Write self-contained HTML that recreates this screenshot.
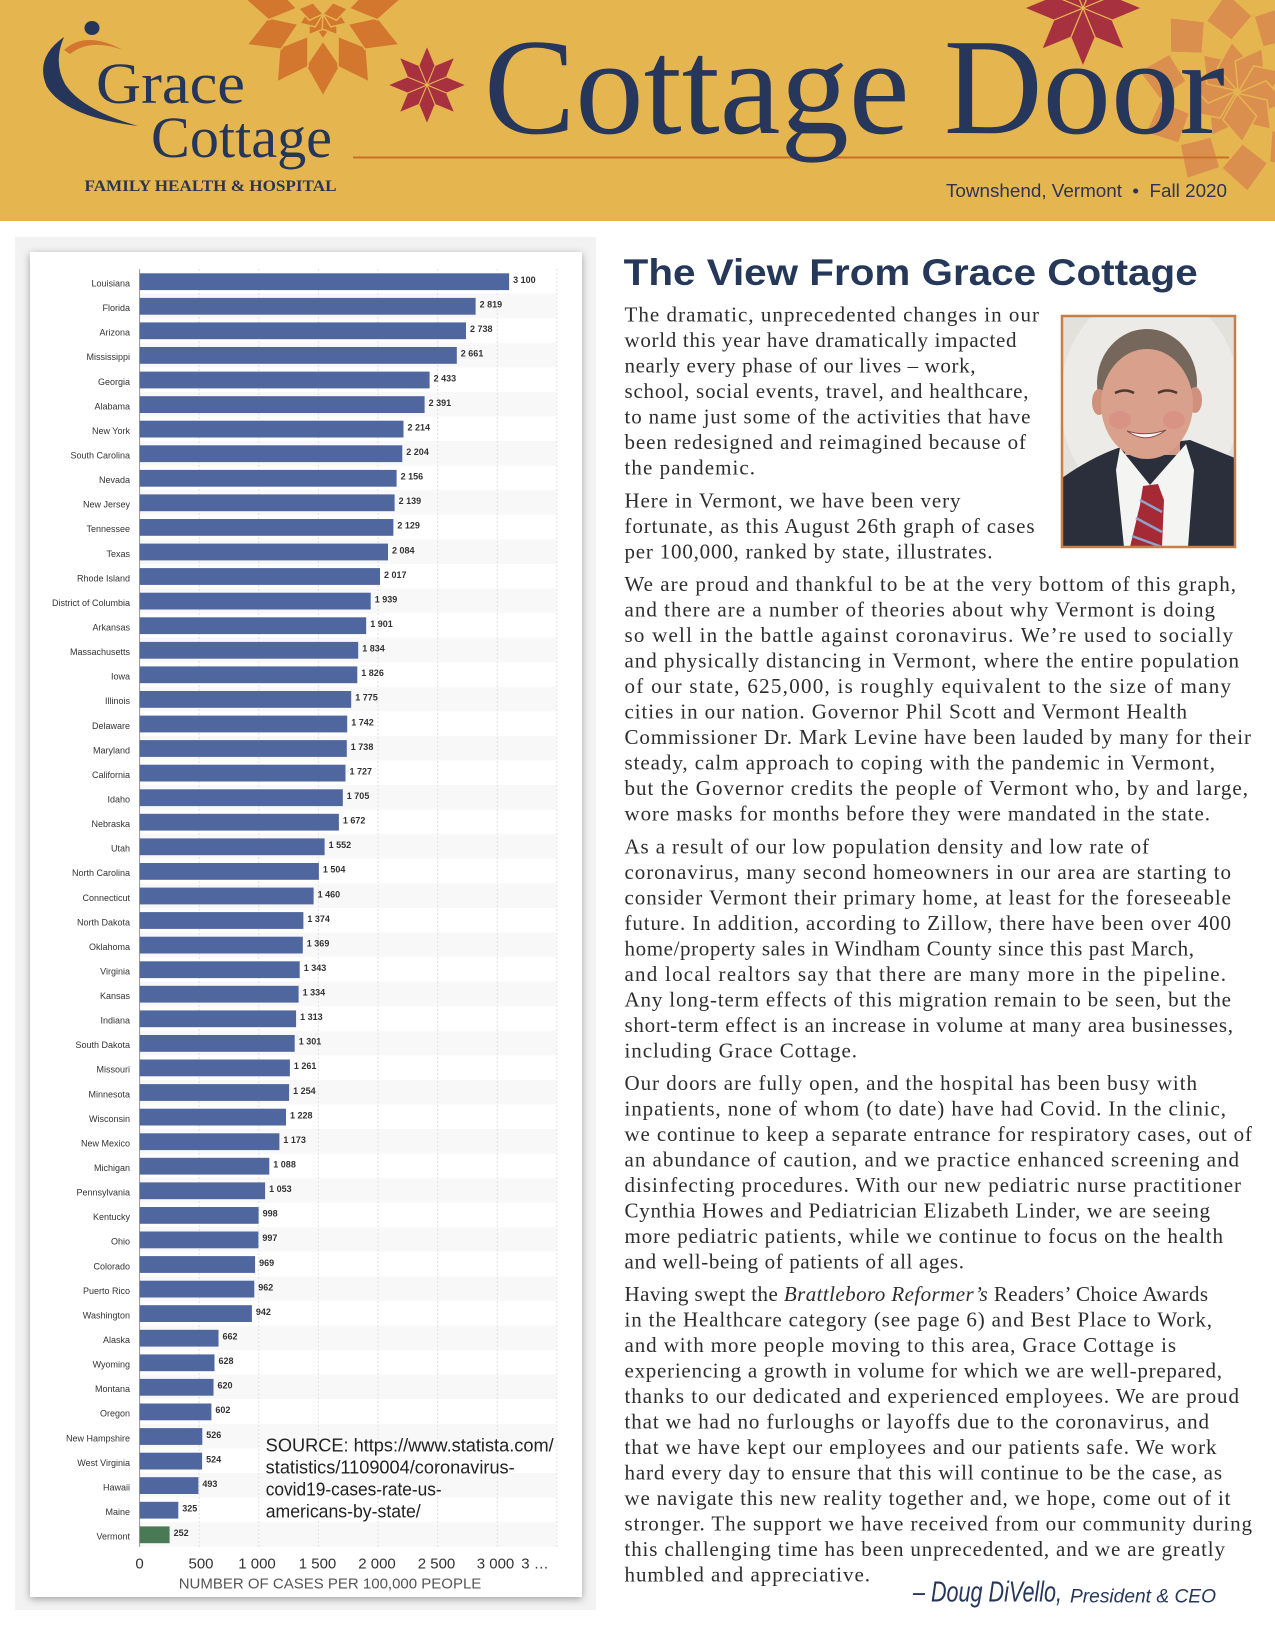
<!DOCTYPE html>
<html>
<head>
<meta charset="utf-8">
<style>
html,body{margin:0;padding:0;background:#fff;}
svg{display:block;}
.s{font-family:"Liberation Sans",sans-serif;font-size:9px;fill:#333;text-anchor:end;}
.v{font-family:"Liberation Sans",sans-serif;font-size:9px;font-weight:bold;fill:#333;}
.b{font-family:"Liberation Serif",serif;font-size:21px;fill:#2e2e2e;}
.t{font-family:"Liberation Sans",sans-serif;font-size:15px;fill:#333;text-anchor:middle;}
.bar{fill:#50669f;}
.st{fill:#f8f8f8;}
</style>
</head>
<body>
<svg width="1275" height="1650" viewBox="0 0 1275 1650" xmlns="http://www.w3.org/2000/svg">
<defs>
<filter id="sh" x="-5%" y="-5%" width="110%" height="110%">
<feDropShadow dx="0" dy="2" stdDeviation="4" flood-color="#000" flood-opacity="0.35"/>
</filter>
<clipPath id="hdr"><rect x="0" y="0" width="1275" height="220"/></clipPath>
<clipPath id="ph"><rect x="1062" y="316" width="173" height="231"/></clipPath>
</defs>

<!-- HEADER -->
<rect x="0" y="0" width="1275" height="221" fill="#e5b550"/>
<g clip-path="url(#hdr)">
  <!-- left orange star -->
  <g transform="translate(323,14)" fill="#d3772f" stroke="#e5b550" stroke-width="1.5">
    <polygon points="0,0 12,-9 25,0 12,9" transform="rotate(90)"/>
    <polygon points="0,0 12,-9 25,0 12,9" transform="rotate(124)"/>
    <polygon points="0,0 12,-9 25,0 12,9" transform="rotate(56)"/>
    <polygon points="0,0 12,-9 25,0 12,9" transform="rotate(158)"/>
    <polygon points="0,0 12,-9 25,0 12,9" transform="rotate(22)"/>
    <polygon points="0,0 12,-9 25,0 12,9" transform="rotate(192)"/>
    <polygon points="0,0 12,-9 25,0 12,9" transform="rotate(-12)"/>
    <polygon points="27,0 52,-17 82,0 52,17" transform="rotate(90)"/>
    <polygon points="27,0 52,-17 82,0 52,17" transform="rotate(124)"/>
    <polygon points="27,0 52,-17 82,0 52,17" transform="rotate(56)"/>
    <polygon points="27,0 52,-17 82,0 52,17" transform="rotate(158)"/>
    <polygon points="27,0 52,-17 82,0 52,17" transform="rotate(22)"/>
    <polygon points="27,0 52,-17 82,0 52,17" transform="rotate(192)"/>
    <polygon points="27,0 52,-17 82,0 52,17" transform="rotate(-12)"/>
    <polygon points="27,0 52,-17 82,0 52,17" transform="rotate(226)"/>
    <polygon points="27,0 52,-17 82,0 52,17" transform="rotate(-46)"/>
  </g>
  <!-- right light orange star -->
  <g transform="translate(1237,92)" fill="#da8f4f" stroke="#e5b550" stroke-width="1.5">
    <polygon points="2,0 26,-17 50,0 26,17" transform="rotate(120)"/>
    <polygon points="2,0 26,-17 50,0 26,17" transform="rotate(156)"/>
    <polygon points="2,0 26,-17 50,0 26,17" transform="rotate(192)"/>
    <polygon points="2,0 26,-17 50,0 26,17" transform="rotate(228)"/>
    <polygon points="2,0 26,-17 50,0 26,17" transform="rotate(264)"/>
    <polygon points="2,0 26,-17 50,0 26,17" transform="rotate(300)"/>
    <polygon points="2,0 26,-17 50,0 26,17" transform="rotate(336)"/>
    <polygon points="2,0 26,-17 50,0 26,17" transform="rotate(12)"/>
    <polygon points="2,0 26,-17 50,0 26,17" transform="rotate(48)"/>
    <polygon points="2,0 26,-17 50,0 26,17" transform="rotate(84)"/>
    <polygon points="52,0 74,-23 100,0 74,23" transform="rotate(120)"/>
    <polygon points="52,0 74,-23 100,0 74,23" transform="rotate(156)"/>
    <polygon points="52,0 74,-23 100,0 74,23" transform="rotate(192)"/>
    <polygon points="52,0 74,-23 100,0 74,23" transform="rotate(228)"/>
    <polygon points="52,0 74,-23 100,0 74,23" transform="rotate(264)"/>
    <polygon points="52,0 74,-23 100,0 74,23" transform="rotate(300)"/>
    <polygon points="52,0 74,-23 100,0 74,23" transform="rotate(336)"/>
    <polygon points="52,0 74,-23 100,0 74,23" transform="rotate(12)"/>
    <polygon points="52,0 74,-23 100,0 74,23" transform="rotate(48)"/>
    <polygon points="52,0 74,-23 100,0 74,23" transform="rotate(84)"/>
  </g>
  <!-- small red star -->
  <g transform="translate(427,85)" fill="#a8313f" stroke="#e5b550" stroke-width="1">
    <polygon points="0,0 19.5,8.1 39,0 19.5,-8.1"/>
    <polygon points="0,0 19.5,8.1 39,0 19.5,-8.1" transform="rotate(45)"/>
    <polygon points="0,0 19.5,8.1 39,0 19.5,-8.1" transform="rotate(90)"/>
    <polygon points="0,0 19.5,8.1 39,0 19.5,-8.1" transform="rotate(135)"/>
    <polygon points="0,0 19.5,8.1 39,0 19.5,-8.1" transform="rotate(180)"/>
    <polygon points="0,0 19.5,8.1 39,0 19.5,-8.1" transform="rotate(225)"/>
    <polygon points="0,0 19.5,8.1 39,0 19.5,-8.1" transform="rotate(270)"/>
    <polygon points="0,0 19.5,8.1 39,0 19.5,-8.1" transform="rotate(315)"/>
  </g>
  <!-- top red star -->
  <g transform="translate(1083,8) scale(1.5)" fill="#a8313f" stroke="#e5b550" stroke-width="0.8">
    <polygon points="0,0 19.5,8.1 39,0 19.5,-8.1"/>
    <polygon points="0,0 19.5,8.1 39,0 19.5,-8.1" transform="rotate(45)"/>
    <polygon points="0,0 19.5,8.1 39,0 19.5,-8.1" transform="rotate(90)"/>
    <polygon points="0,0 19.5,8.1 39,0 19.5,-8.1" transform="rotate(135)"/>
    <polygon points="0,0 19.5,8.1 39,0 19.5,-8.1" transform="rotate(180)"/>
    <polygon points="0,0 19.5,8.1 39,0 19.5,-8.1" transform="rotate(225)"/>
    <polygon points="0,0 19.5,8.1 39,0 19.5,-8.1" transform="rotate(270)"/>
    <polygon points="0,0 19.5,8.1 39,0 19.5,-8.1" transform="rotate(315)"/>
  </g>
</g>

<!-- logo -->
<path d="M64,37 Q34,58 47,87 Q66,117 138,126 Q82,110 65,84 Q53,62 64,37 Z" fill="#26365b"/>
<path d="M64,50 Q86,30 123,50 Q90,38 70,54 Z" fill="#d3772f"/>
<ellipse cx="92" cy="28" rx="7.5" ry="7" fill="#26365b"/>
<text x="96" y="103" font-family="'Liberation Serif',serif" font-size="58" fill="#26365b" textLength="149" lengthAdjust="spacingAndGlyphs">Grace</text>
<text x="151" y="157" font-family="'Liberation Serif',serif" font-size="58" fill="#26365b" textLength="181" lengthAdjust="spacingAndGlyphs">Cottage</text>
<text x="84.5" y="191" font-family="'Liberation Serif',serif" font-size="15.5" font-weight="bold" fill="#2b3550" textLength="252" lengthAdjust="spacingAndGlyphs">FAMILY HEALTH &amp; HOSPITAL</text>

<line x1="353" y1="157.5" x2="1229" y2="157.5" stroke="#c9702b" stroke-width="2"/>
<text x="484" y="133" font-family="'Liberation Serif',serif" font-size="137" fill="#27365b" textLength="741" lengthAdjust="spacingAndGlyphs">Cottage Door</text>
<text x="946" y="197" font-family="'Liberation Sans',sans-serif" font-size="18" fill="#2d3550" textLength="281" lengthAdjust="spacingAndGlyphs">Townshend, Vermont&#160;&#160;•&#160;&#160;Fall 2020</text>

<!-- CHART PANEL -->
<rect x="15" y="237" width="581" height="1373" fill="#f2f2f2"/>
<rect x="30" y="252" width="552" height="1345" fill="#ffffff" filter="url(#sh)"/>

<!-- stripes -->
<g>
<rect class="st" x="139.6" y="293.6" width="417" height="24.57"/>
<rect class="st" x="139.6" y="342.7" width="417" height="24.57"/>
<rect class="st" x="139.6" y="391.9" width="417" height="24.57"/>
<rect class="st" x="139.6" y="441.0" width="417" height="24.57"/>
<rect class="st" x="139.6" y="490.1" width="417" height="24.57"/>
<rect class="st" x="139.6" y="539.3" width="417" height="24.57"/>
<rect class="st" x="139.6" y="588.4" width="417" height="24.57"/>
<rect class="st" x="139.6" y="637.6" width="417" height="24.57"/>
<rect class="st" x="139.6" y="686.7" width="417" height="24.57"/>
<rect class="st" x="139.6" y="735.8" width="417" height="24.57"/>
<rect class="st" x="139.6" y="785.0" width="417" height="24.57"/>
<rect class="st" x="139.6" y="834.1" width="417" height="24.57"/>
<rect class="st" x="139.6" y="883.3" width="417" height="24.57"/>
<rect class="st" x="139.6" y="932.4" width="417" height="24.57"/>
<rect class="st" x="139.6" y="981.5" width="417" height="24.57"/>
<rect class="st" x="139.6" y="1030.7" width="417" height="24.57"/>
<rect class="st" x="139.6" y="1079.8" width="417" height="24.57"/>
<rect class="st" x="139.6" y="1129.0" width="417" height="24.57"/>
<rect class="st" x="139.6" y="1178.1" width="417" height="24.57"/>
<rect class="st" x="139.6" y="1227.2" width="417" height="24.57"/>
<rect class="st" x="139.6" y="1276.4" width="417" height="24.57"/>
<rect class="st" x="139.6" y="1325.5" width="417" height="24.57"/>
<rect class="st" x="139.6" y="1374.6" width="417" height="24.57"/>
<rect class="st" x="139.6" y="1423.8" width="417" height="24.57"/>
<rect class="st" x="139.6" y="1472.9" width="417" height="24.57"/>
<rect class="st" x="139.6" y="1522.1" width="417" height="24.57"/>
</g>

<!-- gridlines -->
<g stroke="#e2e2e2" stroke-width="1" stroke-dasharray="2,2">
<line x1="199.2" y1="269" x2="199.2" y2="1547"/>
<line x1="258.8" y1="269" x2="258.8" y2="1547"/>
<line x1="318.4" y1="269" x2="318.4" y2="1547"/>
<line x1="378.0" y1="269" x2="378.0" y2="1547"/>
<line x1="437.6" y1="269" x2="437.6" y2="1547"/>
<line x1="497.2" y1="269" x2="497.2" y2="1547"/>
<line x1="556.8" y1="269" x2="556.8" y2="1547"/>
</g>
<line x1="139.6" y1="269" x2="139.6" y2="1547" stroke="#999" stroke-width="1"/>

<!-- rows -->
<g transform="translate(0,273.3)"><rect class="bar" x="139.6" y="0" width="369.5" height="16.8"/><text class="s" x="130" y="13.2">Louisiana</text><text class="v" x="513.1" y="9.7">3 100</text></g>
<g transform="translate(0,297.9)"><rect class="bar" x="139.6" y="0" width="336.0" height="16.8"/><text class="s" x="130" y="13.2">Florida</text><text class="v" x="479.6" y="9.7">2 819</text></g>
<g transform="translate(0,322.4)"><rect class="bar" x="139.6" y="0" width="326.4" height="16.8"/><text class="s" x="130" y="13.2">Arizona</text><text class="v" x="470.0" y="9.7">2 738</text></g>
<g transform="translate(0,347.0)"><rect class="bar" x="139.6" y="0" width="317.2" height="16.8"/><text class="s" x="130" y="13.2">Mississippi</text><text class="v" x="460.8" y="9.7">2 661</text></g>
<g transform="translate(0,371.6)"><rect class="bar" x="139.6" y="0" width="290.0" height="16.8"/><text class="s" x="130" y="13.2">Georgia</text><text class="v" x="433.6" y="9.7">2 433</text></g>
<g transform="translate(0,396.2)"><rect class="bar" x="139.6" y="0" width="285.0" height="16.8"/><text class="s" x="130" y="13.2">Alabama</text><text class="v" x="428.6" y="9.7">2 391</text></g>
<g transform="translate(0,420.7)"><rect class="bar" x="139.6" y="0" width="263.9" height="16.8"/><text class="s" x="130" y="13.2">New York</text><text class="v" x="407.5" y="9.7">2 214</text></g>
<g transform="translate(0,445.3)"><rect class="bar" x="139.6" y="0" width="262.7" height="16.8"/><text class="s" x="130" y="13.2">South Carolina</text><text class="v" x="406.3" y="9.7">2 204</text></g>
<g transform="translate(0,469.9)"><rect class="bar" x="139.6" y="0" width="257.0" height="16.8"/><text class="s" x="130" y="13.2">Nevada</text><text class="v" x="400.6" y="9.7">2 156</text></g>
<g transform="translate(0,494.4)"><rect class="bar" x="139.6" y="0" width="255.0" height="16.8"/><text class="s" x="130" y="13.2">New Jersey</text><text class="v" x="398.6" y="9.7">2 139</text></g>
<g transform="translate(0,519.0)"><rect class="bar" x="139.6" y="0" width="253.8" height="16.8"/><text class="s" x="130" y="13.2">Tennessee</text><text class="v" x="397.4" y="9.7">2 129</text></g>
<g transform="translate(0,543.6)"><rect class="bar" x="139.6" y="0" width="248.4" height="16.8"/><text class="s" x="130" y="13.2">Texas</text><text class="v" x="392.0" y="9.7">2 084</text></g>
<g transform="translate(0,568.1)"><rect class="bar" x="139.6" y="0" width="240.4" height="16.8"/><text class="s" x="130" y="13.2">Rhode Island</text><text class="v" x="384.0" y="9.7">2 017</text></g>
<g transform="translate(0,592.7)"><rect class="bar" x="139.6" y="0" width="231.1" height="16.8"/><text class="s" x="130" y="13.2">District of Columbia</text><text class="v" x="374.7" y="9.7">1 939</text></g>
<g transform="translate(0,617.3)"><rect class="bar" x="139.6" y="0" width="226.6" height="16.8"/><text class="s" x="130" y="13.2">Arkansas</text><text class="v" x="370.2" y="9.7">1 901</text></g>
<g transform="translate(0,641.9)"><rect class="bar" x="139.6" y="0" width="218.6" height="16.8"/><text class="s" x="130" y="13.2">Massachusetts</text><text class="v" x="362.2" y="9.7">1 834</text></g>
<g transform="translate(0,666.4)"><rect class="bar" x="139.6" y="0" width="217.7" height="16.8"/><text class="s" x="130" y="13.2">Iowa</text><text class="v" x="361.3" y="9.7">1 826</text></g>
<g transform="translate(0,691.0)"><rect class="bar" x="139.6" y="0" width="211.6" height="16.8"/><text class="s" x="130" y="13.2">Illinois</text><text class="v" x="355.2" y="9.7">1 775</text></g>
<g transform="translate(0,715.6)"><rect class="bar" x="139.6" y="0" width="207.6" height="16.8"/><text class="s" x="130" y="13.2">Delaware</text><text class="v" x="351.2" y="9.7">1 742</text></g>
<g transform="translate(0,740.1)"><rect class="bar" x="139.6" y="0" width="207.2" height="16.8"/><text class="s" x="130" y="13.2">Maryland</text><text class="v" x="350.8" y="9.7">1 738</text></g>
<g transform="translate(0,764.7)"><rect class="bar" x="139.6" y="0" width="205.9" height="16.8"/><text class="s" x="130" y="13.2">California</text><text class="v" x="349.5" y="9.7">1 727</text></g>
<g transform="translate(0,789.3)"><rect class="bar" x="139.6" y="0" width="203.2" height="16.8"/><text class="s" x="130" y="13.2">Idaho</text><text class="v" x="346.8" y="9.7">1 705</text></g>
<g transform="translate(0,813.8)"><rect class="bar" x="139.6" y="0" width="199.3" height="16.8"/><text class="s" x="130" y="13.2">Nebraska</text><text class="v" x="342.9" y="9.7">1 672</text></g>
<g transform="translate(0,838.4)"><rect class="bar" x="139.6" y="0" width="185.0" height="16.8"/><text class="s" x="130" y="13.2">Utah</text><text class="v" x="328.6" y="9.7">1 552</text></g>
<g transform="translate(0,863.0)"><rect class="bar" x="139.6" y="0" width="179.3" height="16.8"/><text class="s" x="130" y="13.2">North Carolina</text><text class="v" x="322.9" y="9.7">1 504</text></g>
<g transform="translate(0,887.6)"><rect class="bar" x="139.6" y="0" width="174.0" height="16.8"/><text class="s" x="130" y="13.2">Connecticut</text><text class="v" x="317.6" y="9.7">1 460</text></g>
<g transform="translate(0,912.1)"><rect class="bar" x="139.6" y="0" width="163.8" height="16.8"/><text class="s" x="130" y="13.2">North Dakota</text><text class="v" x="307.4" y="9.7">1 374</text></g>
<g transform="translate(0,936.7)"><rect class="bar" x="139.6" y="0" width="163.2" height="16.8"/><text class="s" x="130" y="13.2">Oklahoma</text><text class="v" x="306.8" y="9.7">1 369</text></g>
<g transform="translate(0,961.3)"><rect class="bar" x="139.6" y="0" width="160.1" height="16.8"/><text class="s" x="130" y="13.2">Virginia</text><text class="v" x="303.7" y="9.7">1 343</text></g>
<g transform="translate(0,985.8)"><rect class="bar" x="139.6" y="0" width="159.0" height="16.8"/><text class="s" x="130" y="13.2">Kansas</text><text class="v" x="302.6" y="9.7">1 334</text></g>
<g transform="translate(0,1010.4)"><rect class="bar" x="139.6" y="0" width="156.5" height="16.8"/><text class="s" x="130" y="13.2">Indiana</text><text class="v" x="300.1" y="9.7">1 313</text></g>
<g transform="translate(0,1035.0)"><rect class="bar" x="139.6" y="0" width="155.1" height="16.8"/><text class="s" x="130" y="13.2">South Dakota</text><text class="v" x="298.7" y="9.7">1 301</text></g>
<g transform="translate(0,1059.5)"><rect class="bar" x="139.6" y="0" width="150.3" height="16.8"/><text class="s" x="130" y="13.2">Missouri</text><text class="v" x="293.9" y="9.7">1 261</text></g>
<g transform="translate(0,1084.1)"><rect class="bar" x="139.6" y="0" width="149.5" height="16.8"/><text class="s" x="130" y="13.2">Minnesota</text><text class="v" x="293.1" y="9.7">1 254</text></g>
<g transform="translate(0,1108.7)"><rect class="bar" x="139.6" y="0" width="146.4" height="16.8"/><text class="s" x="130" y="13.2">Wisconsin</text><text class="v" x="290.0" y="9.7">1 228</text></g>
<g transform="translate(0,1133.3)"><rect class="bar" x="139.6" y="0" width="139.8" height="16.8"/><text class="s" x="130" y="13.2">New Mexico</text><text class="v" x="283.4" y="9.7">1 173</text></g>
<g transform="translate(0,1157.8)"><rect class="bar" x="139.6" y="0" width="129.7" height="16.8"/><text class="s" x="130" y="13.2">Michigan</text><text class="v" x="273.3" y="9.7">1 088</text></g>
<g transform="translate(0,1182.4)"><rect class="bar" x="139.6" y="0" width="125.5" height="16.8"/><text class="s" x="130" y="13.2">Pennsylvania</text><text class="v" x="269.1" y="9.7">1 053</text></g>
<g transform="translate(0,1207.0)"><rect class="bar" x="139.6" y="0" width="119.0" height="16.8"/><text class="s" x="130" y="13.2">Kentucky</text><text class="v" x="262.6" y="9.7">998</text></g>
<g transform="translate(0,1231.5)"><rect class="bar" x="139.6" y="0" width="118.8" height="16.8"/><text class="s" x="130" y="13.2">Ohio</text><text class="v" x="262.4" y="9.7">997</text></g>
<g transform="translate(0,1256.1)"><rect class="bar" x="139.6" y="0" width="115.5" height="16.8"/><text class="s" x="130" y="13.2">Colorado</text><text class="v" x="259.1" y="9.7">969</text></g>
<g transform="translate(0,1280.7)"><rect class="bar" x="139.6" y="0" width="114.7" height="16.8"/><text class="s" x="130" y="13.2">Puerto Rico</text><text class="v" x="258.3" y="9.7">962</text></g>
<g transform="translate(0,1305.2)"><rect class="bar" x="139.6" y="0" width="112.3" height="16.8"/><text class="s" x="130" y="13.2">Washington</text><text class="v" x="255.9" y="9.7">942</text></g>
<g transform="translate(0,1329.8)"><rect class="bar" x="139.6" y="0" width="78.9" height="16.8"/><text class="s" x="130" y="13.2">Alaska</text><text class="v" x="222.5" y="9.7">662</text></g>
<g transform="translate(0,1354.4)"><rect class="bar" x="139.6" y="0" width="74.9" height="16.8"/><text class="s" x="130" y="13.2">Wyoming</text><text class="v" x="218.5" y="9.7">628</text></g>
<g transform="translate(0,1378.9)"><rect class="bar" x="139.6" y="0" width="73.9" height="16.8"/><text class="s" x="130" y="13.2">Montana</text><text class="v" x="217.5" y="9.7">620</text></g>
<g transform="translate(0,1403.5)"><rect class="bar" x="139.6" y="0" width="71.8" height="16.8"/><text class="s" x="130" y="13.2">Oregon</text><text class="v" x="215.4" y="9.7">602</text></g>
<g transform="translate(0,1428.1)"><rect class="bar" x="139.6" y="0" width="62.7" height="16.8"/><text class="s" x="130" y="13.2">New Hampshire</text><text class="v" x="206.3" y="9.7">526</text></g>
<g transform="translate(0,1452.7)"><rect class="bar" x="139.6" y="0" width="62.5" height="16.8"/><text class="s" x="130" y="13.2">West Virginia</text><text class="v" x="206.1" y="9.7">524</text></g>
<g transform="translate(0,1477.2)"><rect class="bar" x="139.6" y="0" width="58.8" height="16.8"/><text class="s" x="130" y="13.2">Hawaii</text><text class="v" x="202.4" y="9.7">493</text></g>
<g transform="translate(0,1501.8)"><rect class="bar" x="139.6" y="0" width="38.7" height="16.8"/><text class="s" x="130" y="13.2">Maine</text><text class="v" x="182.3" y="9.7">325</text></g>
<g transform="translate(0,1526.4)"><rect x="139.6" y="0" width="30.0" height="16.8" fill="#4a7a55"/><text class="s" x="130" y="13.2">Vermont</text><text class="v" x="173.6" y="9.7">252</text></g>

<!-- x axis labels -->
<text class="t" x="139.6" y="1568.5">0</text>
<text class="t" x="201" y="1568.5">500</text>
<text class="t" x="257" y="1568.5">1 000</text>
<text class="t" x="317.5" y="1568.5">1 500</text>
<text class="t" x="377" y="1568.5">2 000</text>
<text class="t" x="436.5" y="1568.5">2 500</text>
<text class="t" x="495.5" y="1568.5">3 000</text>
<text class="t" x="535" y="1568.5">3 …</text>
<text x="330" y="1588.5" font-family="'Liberation Sans',sans-serif" font-size="15" fill="#555" text-anchor="middle">NUMBER OF CASES PER 100,000 PEOPLE</text>

<!-- source -->
<g font-family="'Liberation Sans',sans-serif" font-size="18" fill="#222">
<text x="265.7" y="1451.5" textLength="288" lengthAdjust="spacingAndGlyphs">SOURCE: https://www.statista.com/</text>
<text x="265.7" y="1473.5" textLength="249" lengthAdjust="spacingAndGlyphs">statistics/1109004/coronavirus-</text>
<text x="265.7" y="1495.5" textLength="176" lengthAdjust="spacingAndGlyphs">covid19-cases-rate-us-</text>
<text x="265.7" y="1517.5" textLength="155" lengthAdjust="spacingAndGlyphs">americans-by-state/</text>
</g>

<!-- RIGHT COLUMN -->
<text x="623.7" y="285" font-family="'Liberation Sans',sans-serif" font-weight="bold" font-size="37" fill="#263859" textLength="574" lengthAdjust="spacingAndGlyphs">The View From Grace Cottage</text>

<!-- photo -->
<g clip-path="url(#ph)">
  <rect x="1062" y="316" width="173" height="231" fill="#e3e1dc"/>
  <ellipse cx="1150" cy="400" rx="90" ry="110" fill="#ecebe7"/>
  <!-- suit -->
  <path d="M1062,478 Q1090,458 1118,448 L1190,440 Q1215,450 1235,458 L1235,547 L1062,547 Z" fill="#2b2e3b"/>
  <!-- neck -->
  <rect x="1125" y="425" width="55" height="30" fill="#d29a86"/>
  <!-- shirt -->
  <path d="M1120,448 L1150,485 L1186,444 L1194,470 L1188,547 L1124,547 L1116,470 Z" fill="#f4f4f2"/>
  <!-- tie -->
  <path d="M1143,486 L1158,484 L1164,500 L1162,547 L1130,547 L1140,505 Z" fill="#a52a35"/>
  <g stroke="#8ea3cc" stroke-width="2.5">
    <line x1="1140" y1="500" x2="1162" y2="512"/>
    <line x1="1136" y1="518" x2="1162" y2="532"/>
    <line x1="1132" y1="536" x2="1162" y2="547"/>
  </g>
  <!-- hair & head -->
  <ellipse cx="1147" cy="383" rx="50" ry="54" fill="#76675c"/>
  <ellipse cx="1099" cy="402" rx="7" ry="13" fill="#cf907c"/>
  <ellipse cx="1195" cy="400" rx="7" ry="13" fill="#cf907c"/>
  <ellipse cx="1147" cy="404" rx="46" ry="55" fill="#d9a08b"/>
  <ellipse cx="1120" cy="420" rx="11" ry="9" fill="#d98b80" opacity="0.6"/>
  <ellipse cx="1174" cy="420" rx="11" ry="9" fill="#d98b80" opacity="0.6"/>
  <path d="M1115,393 Q1125,388 1134,393" stroke="#4a3a34" stroke-width="2.5" fill="none"/>
  <path d="M1158,393 Q1167,388 1177,393" stroke="#4a3a34" stroke-width="2.5" fill="none"/>
  <path d="M1127,431 Q1146,445 1166,430 Q1146,437 1127,431 Z" fill="#fafafa" stroke="#8a4a44" stroke-width="1"/>
</g>
<rect x="1062" y="316" width="173" height="231" fill="none" stroke="#c77f48" stroke-width="2.5"/>

<!-- body text -->
<g class="b">
<text x="624.5" y="321.7" textLength="414.5" lengthAdjust="spacing" class="b">The dramatic, unprecedented changes in our</text>
<text x="624.5" y="347.2" textLength="392" lengthAdjust="spacing" class="b">world this year have dramatically impacted</text>
<text x="624.5" y="372.7" textLength="351" lengthAdjust="spacing" class="b">nearly every phase of our lives – work,</text>
<text x="624.5" y="398.2" textLength="404" lengthAdjust="spacing" class="b">school, social events, travel, and healthcare,</text>
<text x="624.5" y="423.7" textLength="406" lengthAdjust="spacing" class="b">to name just some of the activities that have</text>
<text x="624.5" y="449.2" textLength="401.5" lengthAdjust="spacing" class="b">been redesigned and reimagined because of</text>
<text x="624.5" y="474.7" textLength="130.5" lengthAdjust="spacing" class="b">the pandemic.</text>

<text x="624.5" y="507.4" textLength="336" lengthAdjust="spacing" class="b">Here in Vermont, we have been very</text>
<text x="624.5" y="532.9" textLength="410" lengthAdjust="spacing" class="b">fortunate, as this August 26th graph of cases</text>
<text x="624.5" y="558.4" textLength="368" lengthAdjust="spacing" class="b">per 100,000, ranked by state, illustrates.</text>

<text x="624.5" y="591.1" textLength="611.5" lengthAdjust="spacing" class="b">We are proud and thankful to be at the very bottom of this graph,</text>
<text x="624.5" y="616.6" textLength="590.5" lengthAdjust="spacing" class="b">and there are a number of theories about why Vermont is doing</text>
<text x="624.5" y="642.1" textLength="608.5" lengthAdjust="spacing" class="b">so well in the battle against coronavirus. We’re used to socially</text>
<text x="624.5" y="667.6" textLength="614.5" lengthAdjust="spacing" class="b">and physically distancing in Vermont, where the entire population</text>
<text x="624.5" y="693.1" textLength="606.5" lengthAdjust="spacing" class="b">of our state, 625,000, is roughly equivalent to the size of many</text>
<text x="624.5" y="718.6" textLength="562.5" lengthAdjust="spacing" class="b">cities in our nation. Governor Phil Scott and Vermont Health</text>
<text x="624.5" y="744.1" textLength="626.5" lengthAdjust="spacing" class="b">Commissioner Dr. Mark Levine have been lauded by many for their</text>
<text x="624.5" y="769.6" textLength="590.5" lengthAdjust="spacing" class="b">steady, calm approach to coping with the pandemic in Vermont,</text>
<text x="624.5" y="795.1" textLength="623.5" lengthAdjust="spacing" class="b">but the Governor credits the people of Vermont who, by and large,</text>
<text x="624.5" y="820.6" textLength="585.5" lengthAdjust="spacing" class="b">wore masks for months before they were mandated in the state.</text>

<text x="624.5" y="853.3" textLength="524.5" lengthAdjust="spacing" class="b">As a result of our low population density and low rate of</text>
<text x="624.5" y="878.8" textLength="606.5" lengthAdjust="spacing" class="b">coronavirus, many second homeowners in our area are starting to</text>
<text x="624.5" y="904.3" textLength="606.5" lengthAdjust="spacing" class="b">consider Vermont their primary home, at least for the foreseeable</text>
<text x="624.5" y="929.8" textLength="606.5" lengthAdjust="spacing" class="b">future. In addition, according to Zillow, there have been over 400</text>
<text x="624.5" y="955.3" textLength="569.5" lengthAdjust="spacing" class="b">home/property sales in Windham County since this past March,</text>
<text x="624.5" y="980.8" textLength="601.5" lengthAdjust="spacing" class="b">and local realtors say that there are many more in the pipeline.</text>
<text x="624.5" y="1006.3" textLength="606.5" lengthAdjust="spacing" class="b">Any long-term effects of this migration remain to be seen, but the</text>
<text x="624.5" y="1031.8" textLength="608.5" lengthAdjust="spacing" class="b">short-term effect is an increase in volume at many area businesses,</text>
<text x="624.5" y="1057.3" textLength="232.5" lengthAdjust="spacing" class="b">including Grace Cottage.</text>

<text x="624.5" y="1090" textLength="572.5" lengthAdjust="spacing" class="b">Our doors are fully open, and the hospital has been busy with</text>
<text x="624.5" y="1115.5" textLength="601.5" lengthAdjust="spacing" class="b">inpatients, none of whom (to date) have had Covid. In the clinic,</text>
<text x="624.5" y="1141" textLength="627.5" lengthAdjust="spacing" class="b">we continue to keep a separate entrance for respiratory cases, out of</text>
<text x="624.5" y="1166.5" textLength="614.5" lengthAdjust="spacing" class="b">an abundance of caution, and we practice enhanced screening and</text>
<text x="624.5" y="1192" textLength="616.5" lengthAdjust="spacing" class="b">disinfecting procedures. With our new pediatric nurse practitioner</text>
<text x="624.5" y="1217.5" textLength="585.5" lengthAdjust="spacing" class="b">Cynthia Howes and Pediatrician Elizabeth Linder, we are seeing</text>
<text x="624.5" y="1243" textLength="598.5" lengthAdjust="spacing" class="b">more pediatric patients, while we continue to focus on the health</text>
<text x="624.5" y="1268.5" textLength="339.5" lengthAdjust="spacing" class="b">and well-being of patients of all ages.</text>

<text x="624.5" y="1301.2" textLength="583.5" lengthAdjust="spacing" class="b">Having swept the <tspan font-style="italic">Brattleboro Reformer’s</tspan> Readers’ Choice Awards</text>
<text x="624.5" y="1326.7" textLength="587.5" lengthAdjust="spacing" class="b">in the Healthcare category (see page 6) and Best Place to Work,</text>
<text x="624.5" y="1352.2" textLength="551.5" lengthAdjust="spacing" class="b">and with more people moving to this area, Grace Cottage is</text>
<text x="624.5" y="1377.7" textLength="597.5" lengthAdjust="spacing" class="b">experiencing a growth in volume for which we are well-prepared,</text>
<text x="624.5" y="1403.2" textLength="614.5" lengthAdjust="spacing" class="b">thanks to our dedicated and experienced employees. We are proud</text>
<text x="624.5" y="1428.7" textLength="584.5" lengthAdjust="spacing" class="b">that we had no furloughs or layoffs due to the coronavirus, and</text>
<text x="624.5" y="1454.2" textLength="592" lengthAdjust="spacing" class="b">that we have kept our employees and our patients safe. We work</text>
<text x="624.5" y="1479.7" textLength="597.5" lengthAdjust="spacing" class="b">hard every day to ensure that this will continue to be the case, as</text>
<text x="624.5" y="1505.2" textLength="606" lengthAdjust="spacing" class="b">we navigate this new reality together and, we hope, come out of it</text>
<text x="624.5" y="1530.7" textLength="627.5" lengthAdjust="spacing" class="b">stronger. The support we have received from our community during</text>
<text x="624.5" y="1556.2" textLength="600.5" lengthAdjust="spacing" class="b">this challenging time has been unprecedented, and we are greatly</text>
<text x="624.5" y="1581.7" textLength="245.5" lengthAdjust="spacing" class="b">humbled and appreciative.</text>
</g>

<!-- signature -->
<text x="913" y="1601.5" font-family="'Liberation Sans Narrow','Liberation Sans',sans-serif" font-style="italic" font-size="29" fill="#26365b" textLength="149" lengthAdjust="spacingAndGlyphs">– Doug DiVello,</text>
<text x="1070" y="1602.5" font-family="'Liberation Sans',sans-serif" font-style="italic" font-size="19" fill="#26365b" textLength="146" lengthAdjust="spacingAndGlyphs">President &amp; CEO</text>
</svg>
</body>
</html>
